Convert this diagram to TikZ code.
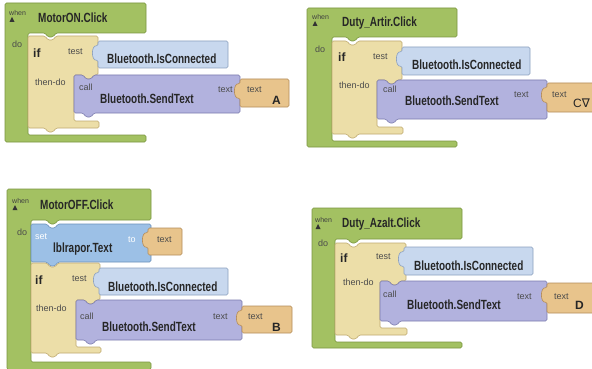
\documentclass[tikz,border=0pt]{standalone}
\usepackage{graphicx}
\usepackage{fontspec}
\setmainfont{Liberation Sans}
\newfontfamily\dvs{DejaVu Sans}
\definecolor{gfill}{HTML}{A3C162}
\definecolor{gdraw}{HTML}{7A9640}
\definecolor{iffill}{HTML}{ECDEA8}
\definecolor{ifdraw}{HTML}{BFAA70}
\definecolor{tfill}{HTML}{C8D8EE}
\definecolor{tdraw}{HTML}{8CA0BE}
\definecolor{cfill}{HTML}{B2B2DE}
\definecolor{cdraw}{HTML}{7C7CAE}
\definecolor{vfill}{HTML}{E8C48C}
\definecolor{vdraw}{HTML}{B48C5A}
\definecolor{sfill}{HTML}{9CC0E6}
\definecolor{sdraw}{HTML}{6A90BA}
\tikzset{
 blk/.style={line width=0.6pt, rounded corners=1.5pt},
 lbl/.style={anchor=west, inner sep=0pt, font=\fontsize{9}{10}\selectfont, text=black!70},
 wlbl/.style={lbl, text=white},
 tinyl/.style={anchor=west, inner sep=0pt, font=\fontsize{7}{8}\selectfont, text=black!75},
 big/.style={anchor=west, inner sep=0pt, text=black!85},
 ifl/.style={anchor=west, inner sep=0pt, font=\fontsize{12}{12}\selectfont\bfseries, text=black!85},
 vall/.style={anchor=west, inner sep=0pt, font=\fontsize{12}{12}\selectfont\bfseries, text=black!85},
}
\newcommand{\bt}[1]{\scalebox{0.75}[1]{\fontsize{13.3}{14}\selectfont\bfseries #1}}
% event block: x1,y1,x2,ybar,xin,taboff,yb1,y2
\newcommand{\evblock}[8]{%
\filldraw[blk,fill=gfill,draw=gdraw] (#1,#2) -- (#3,#2) -- (#3,#4) -- ({#5+#6+11},#4) -- ({#5+#6+8},{#4+4}) -- ({#5+#6+3},{#4+4}) -- ({#5+#6},#4) -- (#5,#4) -- (#5,#7) -- (#3,#7) -- (#3,#8) -- (#1,#8) -- cycle;}
% if block: x1,y1,x2,ymid,xin,yb1,y2,noff
\newcommand{\cblock}[8]{%
\filldraw[blk,fill=iffill,draw=ifdraw] (#1,#2) -- ({#1+#8},#2) -- ({#1+#8+3},{#2+4}) -- ({#1+#8+8},{#2+4}) -- ({#1+#8+11},#2) -- (#3,#2) -- (#3,#4) -- ({#5+20},#4) -- ({#5+17},{#4+4}) -- ({#5+12},{#4+4}) -- ({#5+9},#4) -- (#5,#4) -- (#5,#6) -- ({#3+1},#6) -- ({#3+1},#7) -- ({#1+#8+11},#7) -- ({#1+#8+8},{#7+4}) -- ({#1+#8+3},{#7+4}) -- ({#1+#8},#7) -- (#1,#7) -- cycle;}
% statement block: x1,y1,x2,y2,noff,fill,draw
\newcommand{\stblock}[7]{%
\filldraw[blk,fill=#6,draw=#7] (#1,#2) -- ({#1+#5},#2) -- ({#1+#5+3},{#2+4}) -- ({#1+#5+8},{#2+4}) -- ({#1+#5+11},#2) -- (#3,#2) -- (#3,#4) -- ({#1+#5+11},#4) -- ({#1+#5+8},{#4+4}) -- ({#1+#5+3},{#4+4}) -- ({#1+#5},#4) -- (#1,#4) -- cycle;}
% value block: x1,y1,x2,y2,fill,draw
\newcommand{\vlblock}[6]{%
\filldraw[blk,fill=#5,draw=#6] (#1,#2) -- (#3,#2) -- (#3,#4) -- (#1,#4) -- (#1,{#2+19}) .. controls ({#1-7},{#2+20}) and ({#1-7},{#2+4}) .. (#1,{#2+5}) -- cycle;}
\newcommand{\hatmark}[2]{\fill[black!80] ({#1-2.5},{#2+2}) -- ({#1+2.5},{#2+2}) -- (#1,{#2-3}) -- cycle;}
\begin{document}
\begin{tikzpicture}[x=1pt,y=-1pt]
\useasboundingbox (0,0) rectangle (592,369);
\clip (0,0) rectangle (592,369);
\fill[white] (0,0) rectangle (592,369);
% ---------- group 1: MotorON ----------
\evblock{5}{3}{146}{33}{28}{17}{135}{142}
\cblock{28}{36}{98}{75}{74}{121}{128}{17}
\vlblock{98}{41}{228}{68}{tfill}{tdraw}
\stblock{74}{75}{240}{113}{9}{cfill}{cdraw}
\vlblock{240}{79}{289}{107}{vfill}{vdraw}
\node[tinyl] (w1) at (9,13) {when};
\hatmark{12}{20}
\node[big] (e1) at (38,18) {\bt{MotorON.Click}};
\node[lbl] (d1) at (12,44) {do};
\node[ifl] (i1) at (33,53) {if};
\node[lbl] (te1) at (68,52) {test};
\node[lbl] (th1) at (35,82) {then-do};
\node[big] (b1) at (107,59) {\bt{Bluetooth.IsConnected}};
\node[lbl] (c1) at (79,87) {call};
\node[big] (s1) at (100,99) {\bt{Bluetooth.SendText}};
\node[lbl] (x1) at (218,90) {text};
\node[lbl] (v1) at (247,90) {text};
\node[vall] (a1) at (272,100) {A};
% ---------- group 2: Duty_Artir ----------
\evblock{307}{8}{457}{37}{332}{15}{141}{147}
\cblock{332}{41}{402}{80}{377}{127}{134}{15}
\vlblock{402}{47}{530}{75}{tfill}{tdraw}
\stblock{377}{80}{547}{119}{9}{cfill}{cdraw}
\vlblock{547}{83}{600}{112}{vfill}{vdraw}
\node[tinyl] (w2) at (312,17) {when};
\hatmark{315}{24}
\node[big] (e2) at (342,23) {\bt{Duty\_Artir.Click}};
\node[lbl] (d2) at (315,49) {do};
\node[ifl] (i2) at (338,57) {if};
\node[lbl] (te2) at (373,57) {test};
\node[lbl] (th2) at (339,85) {then-do};
\node[big] (b2) at (412,65) {\bt{Bluetooth.IsConnected}};
\node[lbl] (c2) at (383,89) {call};
\node[big] (s2) at (405,101) {\bt{Bluetooth.SendText}};
\node[lbl] (x2) at (514,95) {text};
\node[lbl] (v2) at (552,95) {text};
\node[anchor=west,inner sep=0pt,font=\fontsize{12}{12}\selectfont,text=black!85] (a2) at (573,103) {C{\dvs ∇}};
% ---------- group 3: MotorOFF ----------
\evblock{7}{189}{151}{220}{31}{16}{362}{369.5}
\stblock{31}{224}{151}{262}{16}{sfill}{sdraw}
\vlblock{148}{228}{182}{255}{vfill}{vdraw}
\cblock{31}{263}{100}{300}{76}{347}{353}{16}
\vlblock{99}{268}{228}{295}{tfill}{tdraw}
\stblock{76}{300}{242}{340}{9}{cfill}{cdraw}
\vlblock{242}{306}{292}{333}{vfill}{vdraw}
\node[tinyl] (w3) at (12,201) {when};
\hatmark{15}{208}
\node[big] (e3) at (40,205) {\bt{MotorOFF.Click}};
\node[lbl] (d3) at (17,232) {do};
\node[wlbl] (st3) at (35,237) {set};
\node[big] (l3) at (53,249) {\bt{lblrapor.Text}};
\node[wlbl] (to3) at (128,240) {to};
\node[lbl] (tt3) at (157,240) {text};
\node[ifl] (i3) at (35,280) {if};
\node[lbl] (te3) at (72,279) {test};
\node[lbl] (th3) at (36,308) {then-do};
\node[big] (b3) at (108,287) {\bt{Bluetooth.IsConnected}};
\node[lbl] (c3) at (80,316) {call};
\node[big] (s3) at (102,327) {\bt{Bluetooth.SendText}};
\node[lbl] (x3) at (213,317) {text};
\node[lbl] (v3) at (248,317) {text};
\node[vall] (a3) at (272,327) {B};
% ---------- group 4: Duty_Azalt ----------
\evblock{312}{208}{462}{239}{335}{13}{342}{348}
\cblock{335}{243}{406}{281}{380}{328}{335}{13}
\vlblock{404}{247}{533}{275}{tfill}{tdraw}
\stblock{380}{281}{547}{321}{9}{cfill}{cdraw}
\vlblock{547}{283}{600}{313}{vfill}{vdraw}
\node[tinyl] (w4) at (315,220) {when};
\hatmark{318}{227}
\node[big] (e4) at (342,224) {\bt{Duty\_Azalt.Click}};
\node[lbl] (d4) at (318,243) {do};
\node[ifl] (i4) at (340,258) {if};
\node[lbl] (te4) at (376,257) {test};
\node[lbl] (th4) at (343,282) {then-do};
\node[big] (b4) at (414,266) {\bt{Bluetooth.IsConnected}};
\node[lbl] (c4) at (383,294) {call};
\node[big] (s4) at (407,305) {\bt{Bluetooth.SendText}};
\node[lbl] (x4) at (517,297) {text};
\node[lbl] (v4) at (554,297) {text};
\node[vall] (a4) at (575,305) {D};
\end{tikzpicture}
\end{document}
